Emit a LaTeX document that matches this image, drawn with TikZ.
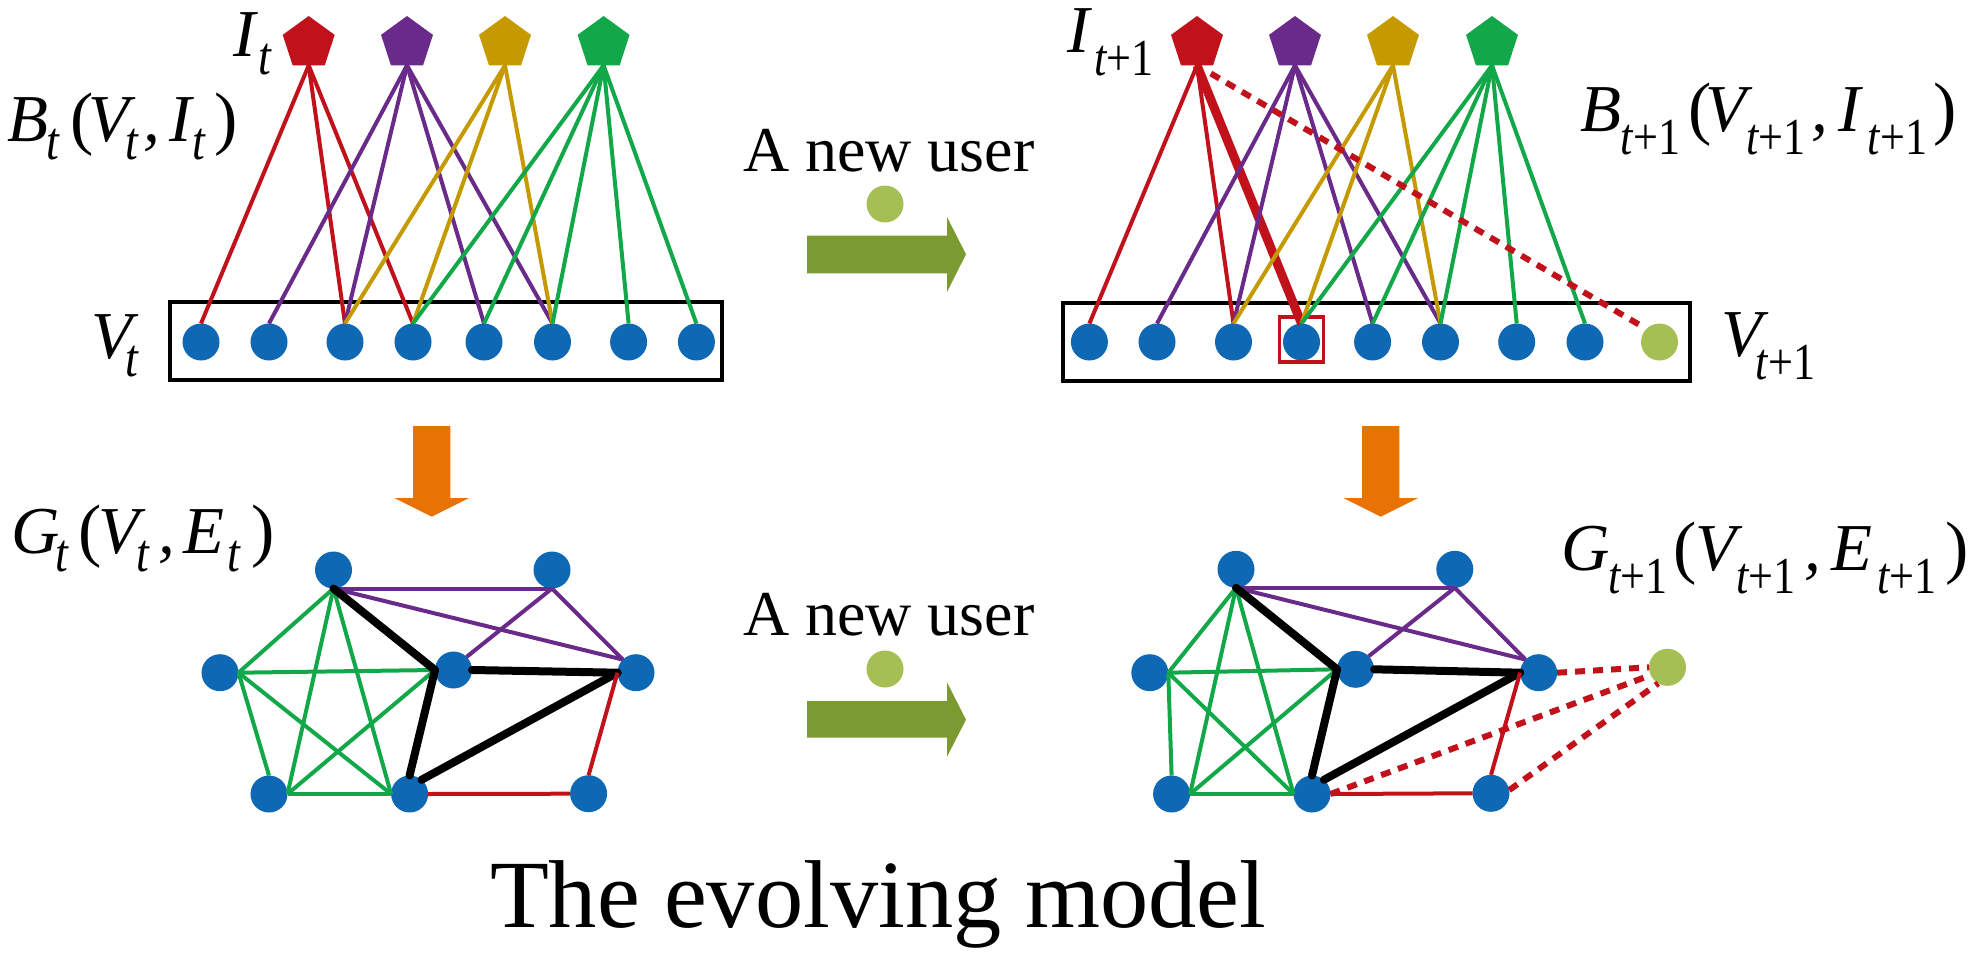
\documentclass[tikz,border=0pt]{standalone}
\usepackage{fontspec}
\setmainfont{Liberation Serif}
\usetikzlibrary{shapes.geometric}
\definecolor{cred}{HTML}{C1121C}
\definecolor{cpurple}{HTML}{6A2A8A}
\definecolor{cgold}{HTML}{C49A00}
\definecolor{cgreen}{HTML}{12A84A}
\definecolor{cblue}{HTML}{0E68B4}
\definecolor{clime}{HTML}{A5BF55}
\definecolor{colive}{HTML}{7B9A32}
\definecolor{corange}{HTML}{E97205}
\newcommand\M[1]{{\fontsize{33.5}{33.5}\selectfont\itshape #1}}
\newcommand\Par[1]{{\fontsize{35}{35}\selectfont #1}}
\newcommand\St{\raisebox{-9pt}{\scalebox{0.85}[1]{\fontsize{27}{27}\selectfont\itshape t}}}
\newcommand\Sp{\raisebox{-11.5pt}{\scalebox{0.85}[1]{\fontsize{26}{26}\selectfont\itshape t\upshape +1}}}
\tikzset{
 vert/.style={circle,fill=cblue,minimum size=18.5pt,inner sep=0pt,outer sep=0pt},
 newv/.style={circle,fill=clime,minimum size=18.5pt,inner sep=0pt,outer sep=0pt},
 item/.style={regular polygon,regular polygon sides=5,minimum size=27.3pt,inner sep=0pt,outer sep=0pt},
 lab/.style={anchor=base west,inner sep=0pt,outer sep=0pt,text=black},
 thin edge/.style={line width=2pt},
 fat edge/.style={line width=4pt,line cap=round},
 dash edge/.style={line width=3pt,cred,dash pattern=on 5pt off 4pt},
 band/.style={rectangle,draw=black,line width=2pt,inner sep=0pt,fill=none}
}
\begin{document}
\begin{tikzpicture}[x=0.5pt,y=-0.5pt]
\useasboundingbox (0,0) rectangle (1987,958);
% ---- top left bipartite
\node[band,minimum width=276pt,minimum height=39pt] (boxL) at (446,341) {};
\foreach \n/\x in {1/201,2/269,3/345,4/413,5/484,6/552.5,7/628.6,8/696.4}
  \node[vert] (a\n) at (\x,342) {};
\node[item,fill=cred]    (ia) at (308.7,43.3) {};
\node[item,fill=cpurple] (ib) at (407,43.3) {};
\node[item,fill=cgold]   (ic) at (505,43.3) {};
\node[item,fill=cgreen]  (id) at (603.6,43.3) {};
\foreach \e in {a1,a3,a4} \draw[thin edge,cred] (ia.south) -- (\e.north);
\foreach \e in {a2,a3,a5,a6} \draw[thin edge,cpurple] (ib.south) -- (\e.north);
\foreach \e in {a3,a4,a6} \draw[thin edge,cgold] (ic.south) -- (\e.north);
\foreach \e in {a4,a5,a6,a7,a8} \draw[thin edge,cgreen] (id.south) -- (\e.north);
% ---- top right bipartite
\node[band,minimum width=313.5pt,minimum height=39pt] (boxR) at (1376.5,342) {};
\foreach \n/\x in {1/1089.4,2/1157,3/1233.5,4/1301.5,5/1372.6,6/1440.5,7/1516.7,8/1585}
  \node[vert] (b\n) at (\x,342) {};
\node[newv] (b9) at (1659.5,342) {};
\node[rectangle,draw=cred,line width=1.6pt,inner sep=0pt,minimum width=22pt,minimum height=22.5pt] (mark) at (1301.5,339.5) {};
\node[item,fill=cred]    (ja) at (1197,43.3) {};
\node[item,fill=cpurple] (jb) at (1295,43.3) {};
\node[item,fill=cgold]   (jc) at (1393,43.3) {};
\node[item,fill=cgreen]  (jd) at (1492,43.3) {};
\foreach \e in {b1,b3} \draw[thin edge,cred] (ja.south) -- (\e.north);
\draw[line width=4.5pt,cred] (ja.south) -- (b4.north);
\foreach \e in {b2,b3,b5,b6} \draw[thin edge,cpurple] (jb.south) -- (\e.north);
\foreach \e in {b3,b4,b6} \draw[thin edge,cgold] (jc.south) -- (\e.north);
\foreach \e in {b4,b5,b6,b7,b8} \draw[thin edge,cgreen] (jd.south) -- (\e.north);
\draw[dash edge,shorten <=8pt,shorten >=4pt] (ja.south) -- (b9.north west);
% ---- bottom left graph
\foreach \n/\x/\y in {A/333.5/570,B/552/570,C/220/672.7,D/453.5/670,E/636/672.7,F/269/794,G/409.6/794,H/588.6/793.7}
  \node[vert] (\n) at (\x,\y) {};
\foreach \u/\v in {A.270/B.270,A.270/E.135,B.270/D.45,B.270/E.135} \draw[thin edge,cpurple] (\u) -- (\v);
\foreach \u/\v in {A.270/C.0,A.270/F.0,A.270/G.180,C.0/D.180,C.0/G.180,C.0/F.90,D.180/F.0,F.0/G.180} \draw[thin edge,cgreen] (\u) -- (\v);
\foreach \u/\v in {A.270/D.180,D.0/E.180,D.180/G.90,G.50/E.180} \draw[fat edge,black] (\u) -- (\v);
\foreach \u/\v in {G.0/H.180,H.90/E.180} \draw[thin edge,cred] (\u) -- (\v);
% ---- bottom right graph
\foreach \n/\x/\y in {P/1236/569.3,Q/1454.8/569.3,R/1149.8/672.7,S/1355.6/669.3,T/1538.6/672.7,U/1171.6/794,W/1312/794,X/1491/793.3}
  \node[vert] (\n) at (\x,\y) {};
\node[newv] (Y) at (1667.5,667.3) {};
\foreach \u/\v in {P.270/Q.270,P.270/T.135,Q.270/S.45,Q.270/T.135} \draw[thin edge,cpurple] (\u) -- (\v);
\foreach \u/\v in {P.270/R.0,P.270/U.0,P.270/W.180,R.0/S.180,R.0/W.180,R.0/U.90,S.180/U.0,U.0/W.180} \draw[thin edge,cgreen] (\u) -- (\v);
\foreach \u/\v in {P.270/S.180,S.0/T.180,S.180/W.90,W.50/T.180} \draw[fat edge,black] (\u) -- (\v);
\foreach \u/\v in {W.0/X.180,X.90/T.180} \draw[thin edge,cred] (\u) -- (\v);
\foreach \u/\v in {T.0/Y.180,W.0/Y.205,X.10/Y.240} \draw[dash edge] (\u) -- (\v);
% ---- block arrows
\fill[colive] (807,235.7) -- (947,235.7) -- (947,217) -- (966,254.3) -- (947,292) -- (947,273.3) -- (807,273.3) -- cycle;
\fill[colive] (807,701) -- (947,701) -- (947,682.3) -- (966,719.7) -- (947,756.7) -- (947,737.7) -- (807,737.7) -- cycle;
\fill[corange] (413,426) -- (450.3,426) -- (450.3,498) -- (469,498) -- (431.7,516.7) -- (394.3,498) -- (413,498) -- cycle;
\fill[corange] (1362,426) -- (1399.3,426) -- (1399.3,498) -- (1418,498) -- (1380.7,516.7) -- (1343.3,498) -- (1362,498) -- cycle;
\node[newv] (u1) at (885,204) {};
\node[newv] (u2) at (885,669) {};
% ---- labels
\node[lab] (t1) at (743,171) {\fontsize{32}{32}\selectfont A new user};
\node[lab] (t2) at (743,635.7) {\fontsize{32}{32}\selectfont A new user};
\node[lab] (title) at (490,927) {\fontsize{48.2}{48.2}\selectfont The evolving model};
\node[lab] (lIt) at (233,56.7) {\M{I}\kern1.5pt\St};
\node[lab] (lBt) at (8,141.7) {\M{B}\kern-1.2pt\St\kern5.5pt\Par{(}\kern-2.5pt\M{V}\kern-2.2pt\St\kern3pt\M{,}\kern4.5pt\M{I}\kern0.5pt\St\kern4.5pt\Par{)}};
\node[lab] (lVt) at (91,358) {\M{V}\kern-3.2pt\St};
\node[lab] (lGt) at (11,553) {\M{G}\kern-2pt\St\kern5.4pt\Par{(}\kern-1.7pt\M{V}\kern-1.7pt\St\kern4.5pt\M{,}\kern4.5pt\M{E}\kern1.5pt\St\kern5.5pt\Par{)}};
\node[lab] (lIp) at (1067,52.7) {\M{I}\kern2.5pt\Sp};
\node[lab] (lBp) at (1580,131.7) {\M{B}\Sp\kern4pt\Par{(}\kern-3pt\M{V}\Sp\kern3pt\M{,}\kern5pt\M{I}\kern3.5pt\Sp\kern3pt\Par{)}};
\node[lab] (lVp) at (1721,356.7) {\M{V}\kern-3pt\Sp};
\node[lab] (lGp) at (1561,570) {\M{G}\kern-0.5pt\Sp\kern3pt\Par{(}\kern-0.7pt\M{V}\Sp\kern4.5pt\M{,}\kern5.2pt\M{E}\kern2.3pt\Sp\kern4.5pt\Par{)}};
\end{tikzpicture}
\end{document}
